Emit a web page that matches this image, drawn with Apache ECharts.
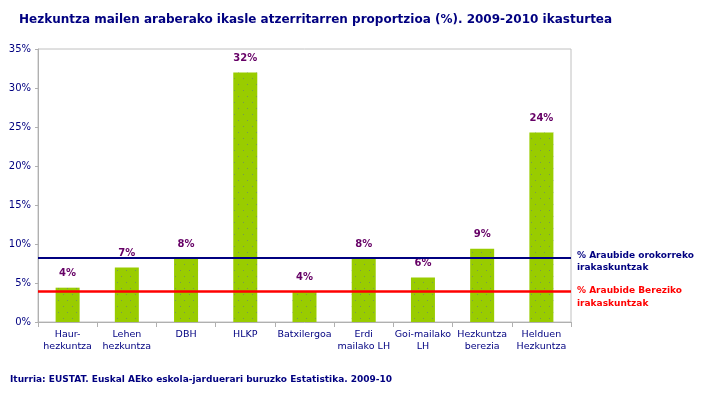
<!DOCTYPE html>
<html>
<head>
<meta charset="utf-8">
<script src="https://cdn.jsdelivr.net/npm/echarts@6/dist/echarts.min.js"></script>
<style>
html,body{margin:0;padding:0;background:#fff;}
#chart{width:713px;height:396px;}
</style>
</head>
<body>
<div id="chart"></div>
<script>
const categories = ["Haur-\nhezkuntza","Lehen\nhezkuntza","DBH","HLKP","Batxilergoa","Erdi\nmailako LH","Goi-mailako\nLH","Hezkuntza\nberezia","Helduen\nHezkuntza"];
const values = [4.4, 7.0, 8.1, 32.0, 3.9, 8.1, 5.7, 9.4, 24.3];
const orokorraValue = 8.2;
const bereziaValue = 3.9;
const yTicks = [0,5,10,15,20,25,30,35];
const titleText = "Hezkuntza mailen araberako ikasle atzerritarren proportzioa (%). 2009-2010 ikasturtea";
const sourceText = "Iturria: EUSTAT. Euskal AEko eskola-jarduerari buruzko Estatistika. 2009-10";
const orokorraLabel = "% Araubide orokorreko\nirakaskuntzak";
const bereziaLabel = "% Araubide Bereziko\nirakaskuntzak";

const FONT = "Verdana, 'DejaVu Sans', sans-serif";
const chart = echarts.init(document.getElementById('chart'));
chart.setOption({
  animation:false,
  backgroundColor:'#fff',
  title:{
    text:titleText, left:14, top:9,
    textStyle:{color:'#000080',fontFamily:FONT,fontWeight:'bold',fontSize:12}
  },
  graphic:[{
    id:'source', type:'text', left:10, top:375,
    style:{text:sourceText, fill:'#000080', font:"bold 9px "+FONT}
  }],
  grid:{left:38,right:142,top:49,bottom:74,show:true,borderColor:'#c0c0c0',borderWidth:1,containLabel:false},
  xAxis:{
    type:'category', data:categories,
    axisLine:{lineStyle:{color:'#b0b0b0'}},
    axisTick:{show:true,length:5,interval:0,lineStyle:{color:'#b0b0b0'}},
    axisLabel:{color:'#000080',fontFamily:FONT,fontSize:9.5,lineHeight:12,margin:7,interval:0}
  },
  yAxis:{
    type:'value', min:yTicks[0], max:yTicks[yTicks.length-1], interval:5,
    splitLine:{show:false},
    axisLine:{show:true,lineStyle:{color:'#b0b0b0'}},
    axisTick:{show:true,length:3,lineStyle:{color:'#b0b0b0'}},
    axisLabel:{color:'#000080',fontFamily:FONT,fontSize:10,formatter:'{value}%',margin:7}
  },
  series:[{
    type:'bar', data:values, barWidth:24,
    itemStyle:{color:'#99cc00',
      decal:{symbol:'rect',symbolSize:1,color:'rgba(90,110,150,0.55)',dashArrayX:[[1,8],[0,4,1,4]],dashArrayY:[1,5]}},
    label:{show:true,position:'top',distance:9,color:'#660066',fontFamily:FONT,fontWeight:'bold',fontSize:10,
      formatter:p=>Math.round(p.value)+'%'},
    markLine:{
      silent:true, symbol:'none', label:{show:false},
      data:[
        {yAxis:orokorraValue, lineStyle:{color:'#000080',width:2,type:'solid'}},
        {yAxis:bereziaValue, lineStyle:{color:'#ff0000',width:2.5,type:'solid'}}
      ]
    }
  }]
});
const yO = chart.convertToPixel({yAxisIndex:0}, orokorraValue);
const yB = chart.convertToPixel({yAxisIndex:0}, bereziaValue);
chart.setOption({
  graphic:[
    {id:'labO', type:'text', x:577, y:yO-9,
     style:{text:orokorraLabel, fill:'#000080', font:"bold 9px "+FONT, lineHeight:12.5, textVerticalAlign:'top'}},
    {id:'labB', type:'text', x:577, y:yB-7,
     style:{text:bereziaLabel, fill:'#ff0000', font:"bold 9px "+FONT, lineHeight:12.5, textVerticalAlign:'top'}}
  ]
});
</script>
</body>
</html>
